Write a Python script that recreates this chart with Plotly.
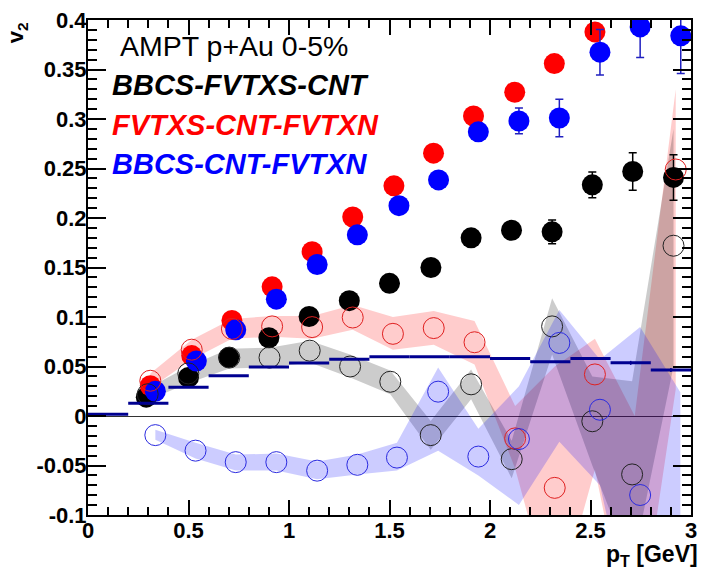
import plotly.graph_objects as go

# ---------------- data ----------------
# filled markers
bbcs_fvtxs_cnt_x = [0.29, 0.50, 0.70, 0.90, 1.10, 1.30, 1.50, 1.706, 1.906, 2.107, 2.309, 2.509, 2.71, 2.913]
bbcs_fvtxs_cnt_y = [0.019, 0.039, 0.059, 0.079, 0.1005, 0.1165, 0.134, 0.150, 0.180, 0.1876, 0.186, 0.2335, 0.247, 0.241]
bbcs_fvtxs_cnt_err = [0.002, 0.002, 0.002, 0.002, 0.003, 0.003, 0.003, 0.004, 0.005, 0.006, 0.012, 0.013, 0.019, 0.023]

fvtxs_cnt_fvtxn_x = [0.31, 0.516, 0.716, 0.916, 1.115, 1.317, 1.522, 1.719, 1.918, 2.123, 2.32, 2.522]
fvtxs_cnt_fvtxn_y = [0.0306, 0.061, 0.0965, 0.1305, 0.166, 0.201, 0.2325, 0.2655, 0.303, 0.327, 0.356, 0.388]

bbcs_cnt_fvtxn_x = [0.335, 0.539, 0.735, 0.937, 1.14, 1.34, 1.547, 1.744, 1.942, 2.144, 2.345, 2.547, 2.747, 2.949]
bbcs_cnt_fvtxn_y = [0.025, 0.0556, 0.087, 0.118, 0.153, 0.183, 0.2125, 0.2385, 0.287, 0.298, 0.301, 0.3675, 0.393, 0.384]
bbcs_cnt_fvtxn_err = [0.002, 0.002, 0.002, 0.002, 0.003, 0.003, 0.003, 0.004, 0.005, 0.013, 0.019, 0.023, 0.031, 0.038]

# open markers + bands
black_open_x = [0.297, 0.499, 0.703, 0.903, 1.103, 1.304, 1.504, 1.705, 1.906, 2.108, 2.309, 2.509, 2.707, 2.913]
black_open_y = [0.022, 0.043, 0.059, 0.059, 0.066, 0.050, 0.0346, -0.0193, 0.032, -0.0436, 0.0905, -0.0053, -0.059, 0.172]
black_band_lo = [0.016, 0.033, 0.048, 0.049, 0.054, 0.039, 0.022, -0.034, 0.017, -0.063, 0.062, -0.05, -0.153, 0.05]
black_band_hi = [0.028, 0.050, 0.068, 0.069, 0.076, 0.062, 0.046, -0.005, 0.047, -0.025, 0.119, 0.04, 0.035, 0.29]

red_open_x = [0.31, 0.516, 0.716, 0.916, 1.115, 1.317, 1.517, 1.72, 1.923, 2.125, 2.322, 2.522, 2.72, 2.924]
red_open_y = [0.0356, 0.067, 0.088, 0.0905, 0.0898, 0.0995, 0.083, 0.0888, 0.0745, -0.0226, -0.0726, 0.042, None, 0.249]
red_band_lo = [0.028, 0.057, 0.078, 0.080, 0.078, 0.087, 0.067, 0.072, 0.052, -0.053, -0.20, -0.054, -0.25, 0.027]
red_band_hi = [0.043, 0.077, 0.098, 0.101, 0.101, 0.112, 0.100, 0.106, 0.096, 0.010, 0.050, 0.078, 0.0, 0.33]

blue_open_x = [0.335, 0.535, 0.735, 0.937, 1.14, 1.34, 1.537, 1.742, 1.942, 2.144, 2.345, 2.547, 2.747, 2.947]
blue_open_y = [-0.0193, -0.035, -0.0466, -0.0466, -0.0552, -0.0493, -0.042, 0.0246, -0.041, -0.0233, 0.0738, 0.0063, -0.0798, None]
blue_band_lo = [-0.024, -0.043, -0.055, -0.055, -0.064, -0.059, -0.055, -0.035, -0.060, -0.090, -0.026, -0.070, -0.25, -0.25]
blue_band_hi = [-0.014, -0.027, -0.039, -0.038, -0.046, -0.039, -0.027, 0.049, -0.013, 0.030, 0.107, 0.057, 0.090, 0.024]

# histogram-like step (bins of 0.2)
bin_edges = [0.0, 0.2, 0.4, 0.6, 0.8, 1.0, 1.2, 1.4, 1.6, 1.8, 2.0, 2.2, 2.4, 2.6, 2.8, 3.0]
bin_values = [0.0017, 0.013, 0.029, 0.0406, 0.0496, 0.0536, 0.0572, 0.0599, 0.0598, 0.0598, 0.058, 0.0549, 0.058, 0.0537, 0.0464]
bin_errors = [0.0, 0.0, 0.0, 0.0, 0.0, 0.0, 0.0, 0.0, 0.0, 0.0, 0.0, 0.0, 0.0, 0.002, 0.002]

y_tickvals = [-0.1, -0.05, 0, 0.05, 0.1, 0.15, 0.2, 0.25, 0.3, 0.35, 0.4]
y_ticktext = ["-0.1", "-0.05", "0", "0.05", "0.1", "0.15", "0.2", "0.25", "0.3", "0.35", "0.4"]
x_tickvals = [0, 0.5, 1, 1.5, 2, 2.5, 3]
x_ticktext = ["0", "0.5", "1", "1.5", "2", "2.5", "3"]

FONT = "Liberation Sans, Arial, Helvetica, sans-serif"
MS = 21

fig = go.Figure()


def band(xs, lo, hi, color):
    bx = list(xs) + list(xs)[::-1]
    by = list(hi) + list(lo)[::-1]
    fig.add_trace(go.Scatter(x=bx, y=by, mode="lines", fill="toself", fillcolor=color,
                             line=dict(width=0), hoverinfo="skip", showlegend=False))


# bands (under markers)
band(red_open_x, red_band_lo, red_band_hi, "rgba(255,0,0,0.2)")
band(black_open_x, black_band_lo, black_band_hi, "rgba(0,0,0,0.2)")
band(blue_open_x, blue_band_lo, blue_band_hi, "rgba(0,0,255,0.2)")

# filled markers
fig.add_trace(go.Scatter(x=bbcs_fvtxs_cnt_x, y=bbcs_fvtxs_cnt_y, mode="markers",
                         marker=dict(color="black", size=MS, line=dict(width=0)),
                         error_y=dict(type="data", array=bbcs_fvtxs_cnt_err, color="black", thickness=1.5, width=4),
                         showlegend=False))
fig.add_trace(go.Scatter(x=fvtxs_cnt_fvtxn_x, y=fvtxs_cnt_fvtxn_y, mode="markers",
                         marker=dict(color="#ff0000", size=MS, line=dict(width=0)),
                         showlegend=False))
fig.add_trace(go.Scatter(x=bbcs_cnt_fvtxn_x, y=bbcs_cnt_fvtxn_y, mode="markers",
                         marker=dict(color="#0000ff", size=MS, line=dict(width=0)),
                         error_y=dict(type="data", array=bbcs_cnt_fvtxn_err, color="#2020c0", thickness=1.5, width=4),
                         showlegend=False))

# open markers
fig.add_trace(go.Scatter(x=black_open_x, y=black_open_y, mode="markers",
                         marker=dict(symbol="circle-open", color="#222222", size=MS, line=dict(width=1)),
                         showlegend=False))
fig.add_trace(go.Scatter(x=red_open_x, y=red_open_y, mode="markers",
                         marker=dict(symbol="circle-open", color="#e02020", size=MS, line=dict(width=1)),
                         showlegend=False))
fig.add_trace(go.Scatter(x=blue_open_x, y=blue_open_y, mode="markers",
                         marker=dict(symbol="circle-open", color="#2a2ae0", size=MS, line=dict(width=1)),
                         showlegend=False))

# step line
sx, sy = [], []
for i, v in enumerate(bin_values):
    sx += [bin_edges[i], bin_edges[i + 1], None]
    sy += [v, v, None]
fig.add_trace(go.Scatter(x=sx, y=sy, mode="lines", line=dict(color="#000090", width=3),
                         hoverinfo="skip", showlegend=False))
centers = [(bin_edges[i] + bin_edges[i + 1]) / 2 for i in range(len(bin_values))]
fig.add_trace(go.Scatter(x=centers, y=bin_values, mode="markers", marker=dict(size=1, color="#000090"),
                         error_y=dict(type="data", array=bin_errors, color="#000090", thickness=1.5, width=0),
                         hoverinfo="skip", showlegend=False))

# texts
texts = [
    ("AMPT p+Au 0-5%", "black", 0.049, 0.948, 28.5),
    ("<b><i>BBCS-FVTXS-CNT</i></b>", "black", 0.036, 0.868, 29),
    ("<b><i>FVTXS-CNT-FVTXN</i></b>", "#ff0000", 0.036, 0.788, 29),
    ("<b><i>BBCS-CNT-FVTXN</i></b>", "#0000ff", 0.036, 0.709, 29),
]
for t, c, xp, yp, s in texts:
    fig.add_annotation(text=t, x=xp, y=yp, xref="paper", yref="paper", xanchor="left", yanchor="middle",
                       showarrow=False, font=dict(family=FONT, size=s, color=c))

fig.add_annotation(text="<b>p<sub>T</sub> [GeV]</b>",
                   x=1.0, y=-0.049, xref="paper", yref="paper", xshift=9,
                   xanchor="right", yanchor="top", showarrow=False,
                   font=dict(family=FONT, size=23, color="black"))
fig.add_annotation(text="<b>v<sub>2</sub></b>", x=-0.118, y=1.0, xref="paper", yref="paper",
                   xanchor="center", yanchor="top", textangle=-90, showarrow=False,
                   font=dict(family=FONT, size=22, color="black"))

fig.update_xaxes(range=[0, 3], tickvals=x_tickvals, ticktext=x_ticktext,
                 ticks="inside", ticklen=15, tickwidth=1.5, tickcolor="black",
                 minor=dict(ticks="inside", ticklen=8, dtick=0.1, tickwidth=1.5, tickcolor="black", showgrid=False),
                 showline=True, linewidth=2, linecolor="black", mirror="ticks",
                 showgrid=False, zeroline=False, ticklabelstandoff=-5,
                 tickfont=dict(family=FONT, size=22, color="black", weight="bold"))
fig.update_yaxes(range=[-0.1, 0.4], tickvals=y_tickvals, ticktext=y_ticktext,
                 ticks="inside", ticklen=18, tickwidth=1.5, tickcolor="black",
                 minor=dict(ticks="inside", ticklen=9, dtick=0.01, tickwidth=1.5, tickcolor="black", showgrid=False),
                 showline=True, linewidth=2, linecolor="black", mirror="ticks",
                 showgrid=False, zeroline=True, zerolinecolor="#333333", zerolinewidth=1,
                 ticklabelstandoff=-5,
                 tickfont=dict(family=FONT, size=22, color="black", weight="bold"))

fig.update_layout(width=705, height=569, margin=dict(l=88, r=8, t=14, b=54),
                  plot_bgcolor="white", paper_bgcolor="white", showlegend=False)

fig.write_html("out.html")
